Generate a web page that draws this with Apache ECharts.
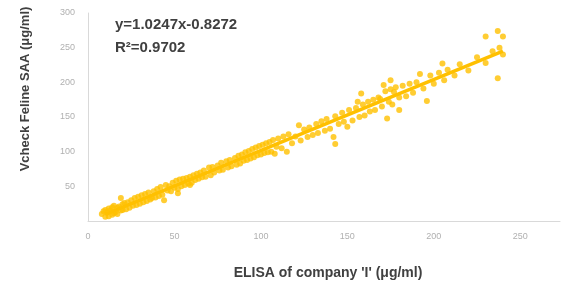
<!DOCTYPE html>
<html>
<head>
<meta charset="utf-8">
<script src="https://cdn.jsdelivr.net/npm/echarts@6/dist/echarts.min.js"></script>
<style>
  html, body { margin: 0; padding: 0; background: #fff; }
  #chart { width: 563px; height: 293px; }
</style>
</head>
<body>
<div id="chart"></div>
<script>
// ELISA (x) vs Vcheck (y)
var elisa = [
  8, 9, 10, 10, 11, 12, 12, 13, 14, 14, 15, 15, 16, 17, 17, 18, 19, 19, 20, 20,
  21, 22, 23, 24, 25, 26, 27, 28, 29, 30, 31, 32, 33, 34, 35, 36, 37, 38, 39, 40,
  41, 42, 43, 44, 45, 46, 47, 48, 49, 50, 51, 52, 52, 53, 54, 55, 56, 57, 58, 59, 59, 60,
  61, 62, 63, 64, 65, 66, 67, 68, 70, 71, 72, 73, 75, 76, 77, 78, 80, 81, 82, 83, 85, 86, 87, 88, 89, 90,
  91, 92, 93, 94, 95, 96, 97, 98, 99, 100, 101, 102, 103, 104, 105, 106, 107, 108, 109, 110, 112, 113, 115, 116, 118, 120, 122, 123, 125, 127, 128, 130,
  132, 133, 135, 137, 138, 140, 142, 143, 143, 145, 147, 148, 150, 151, 153, 155, 156, 157, 158, 159,
  160, 162, 163, 165, 166, 168, 169, 170, 171, 172, 173, 174, 175, 175, 176, 177, 178, 180, 180, 182, 184, 186, 188, 190, 192, 194, 196, 198, 200,
  203, 205, 206, 208, 212, 215, 220, 225, 230, 230, 234, 237, 237, 238, 240, 240
];
var vcheck = [
  10, 14, 6, 16, 12, 7, 18, 15, 9, 20, 11, 22, 13, 19, 10, 21, 15, 33, 24, 16,
  26, 17, 27, 19, 30, 22, 33, 23, 35, 25, 37, 27, 39, 29, 41, 31, 33, 43, 34, 46,
  36, 49, 38, 30, 52, 44, 50, 43, 55, 48, 58, 40, 46, 60, 50, 61, 52, 62, 54, 52, 64, 55,
  66, 59, 68, 61, 70, 63, 73, 64, 77, 66, 78, 70, 80, 73, 84, 74, 86, 77, 88, 79, 91, 81, 94, 83, 96, 87,
  99, 88, 101, 90, 104, 92, 106, 95, 108, 96, 110, 98, 112, 99, 114, 100, 117, 97, 107, 119, 105, 122, 100, 125, 112, 122, 138, 116, 132, 121, 135, 124,
  140, 127, 144, 130, 147, 133, 121, 111, 151, 140, 156, 143, 136, 160, 145, 163, 172, 150, 184, 168,
  152, 172, 158, 175, 160, 178, 176, 165, 196, 187, 148, 172, 203, 190, 168, 186, 193, 160, 178, 195, 180, 198, 185, 200, 212, 191, 173, 210, 198,
  214, 227, 203, 218, 210, 226, 217, 236, 228, 266, 245, 274, 206, 250, 266, 240
];
var xTicks = [0, 50, 100, 150, 200, 250];
var yTicks = [50, 100, 150, 200, 250, 300];
// linear fit shown on the chart
var slope = 1.0247;
var intercept = -0.8272;
var fitRange = [10, 240];

var points = elisa.map(function (x, i) { return [x, vcheck[i]] });
var fitLine = fitRange.map(function (x) { return [x, slope * x + intercept] });

var chart = echarts.init(document.getElementById('chart'));
var gold = '#FFC000';
var option = {
  animation: false,
  grid: { left: 88, right: 0, top: 13, bottom: 72 },
  xAxis: {
    type: 'value',
    min: 0,
    max: 273,
    interval: 50,
    splitLine: { show: false },
    axisTick: { show: false },
    axisLine: { lineStyle: { color: '#d9d9d9', width: 1 } },
    axisLabel: {
      color: '#b0b0b0',
      fontSize: 9,
      fontFamily: 'Liberation Sans',
      margin: 11,
      formatter: function (v) { return xTicks.indexOf(v) >= 0 ? String(v) : '' }
    }
  },
  yAxis: {
    type: 'value',
    min: 0,
    max: 300,
    interval: 50,
    splitLine: { show: false },
    axisTick: { show: false },
    axisLine: { show: true, lineStyle: { color: '#d9d9d9', width: 1 } },
    axisLabel: {
      color: '#b0b0b0',
      fontSize: 9,
      fontFamily: 'Liberation Sans',
      margin: 13,
      formatter: function (v) { return yTicks.indexOf(v) >= 0 ? String(v) : '' }
    }
  },
  graphic: [
    {
      type: 'text', left: 115, top: 13,
      style: { text: 'y=1.0247x-0.8272\nR²=0.9702', fill: '#404040', font: 'bold 15px "Liberation Sans"', lineHeight: 23 }
    },
    {
      type: 'text', x: 25, y: 89, rotation: Math.PI / 2,
      style: { text: 'Vcheck Feline SAA (μg/ml)', fill: '#404040', font: 'bold 13px "Liberation Sans"', align: 'center', verticalAlign: 'middle' }
    },
    {
      type: 'text', x: 328, y: 273,
      style: { text: "ELISA of company 'I' (μg/ml)", fill: '#404040', font: 'bold 14px "Liberation Sans"', align: 'center', verticalAlign: 'middle' }
    }
  ],
  series: [
    {
      type: 'scatter',
      data: points,
      symbolSize: 6,
      itemStyle: { color: gold }
    },
    {
      type: 'line',
      data: fitLine,
      showSymbol: false,
      lineStyle: { color: gold, width: 3.5 },
      z: 3
    }
  ]
};
chart.setOption(option);
</script>
</body>
</html>
